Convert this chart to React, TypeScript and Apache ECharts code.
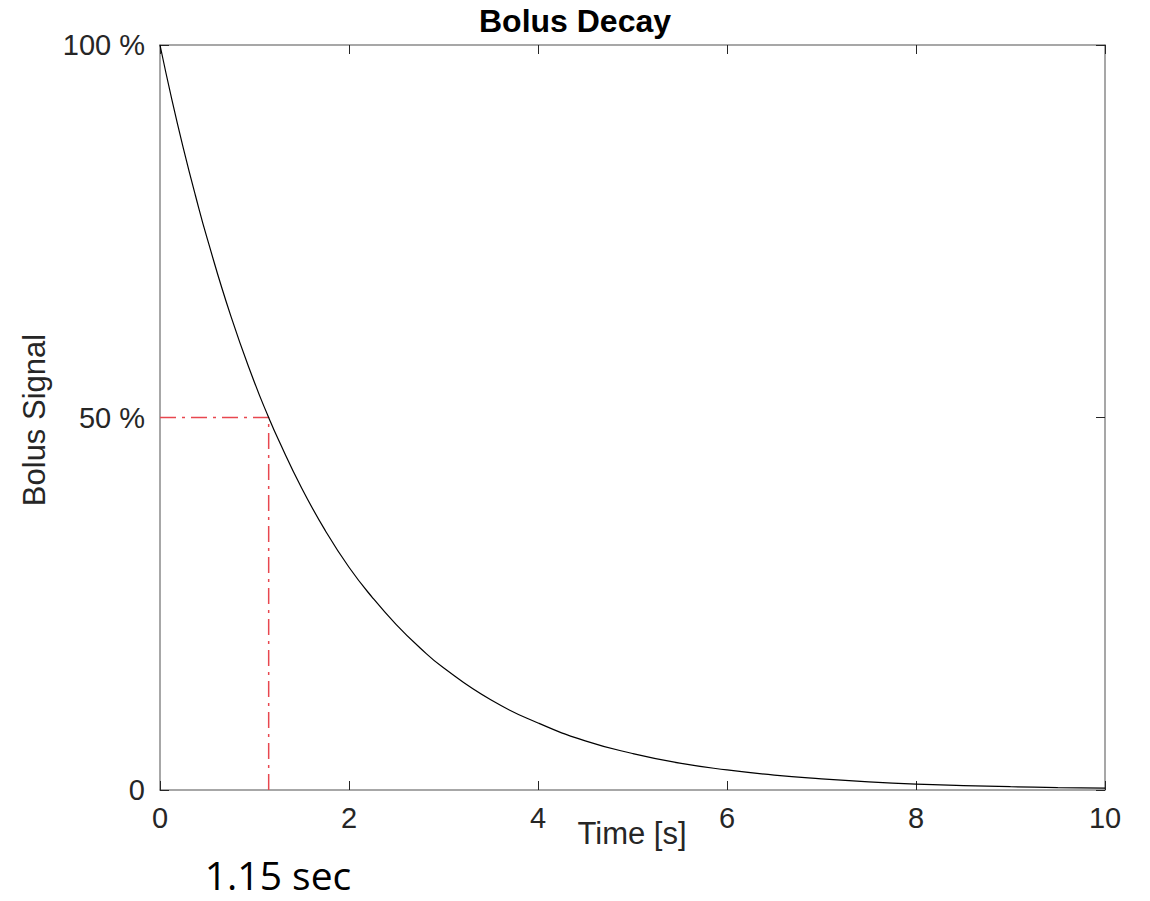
import React, { useEffect, useRef } from "react";
import * as echarts from "echarts";

// Time samples [s] and bolus signal [%]
const timeS = [0, 0.125, 0.25, 0.375, 0.5, 0.75, 1.0, 1.15, 1.25, 1.5, 1.75, 2.0, 2.25, 2.5, 2.75, 3.0, 3.5, 4.0, 4.5, 5.0, 5.5, 6.0, 6.5, 7.0, 7.5, 8.0, 8.5, 9.0, 9.5, 10.0];
const signalPct = [100, 92.7, 86.0, 79.8, 74.0, 63.6, 54.7, 50.0, 47.1, 40.5, 34.8, 29.9, 25.8, 22.2, 19.1, 16.4, 12.1, 9.0, 6.6, 4.9, 3.6, 2.7, 2.0, 1.5, 1.1, 0.8, 0.6, 0.44, 0.33, 0.24];

// Half-life marker (1.15 s at 50 %)
const halfLifeTime = 1.15;
const halfLevel = 50;
const hLine = [[0, halfLevel], [halfLifeTime, halfLevel]];
const vLine = [[halfLifeTime, 0], [halfLifeTime, halfLevel]];

const xTicks = [0, 2, 4, 6, 8, 10];
const yTickLabels: Record<number, string> = { 0: "0", 50: "50 %", 100: "100 %" };

const FONT = "'Liberation Sans', Arial, Helvetica, sans-serif";
const AXIS_GRAY = "#8a8a8a";
const TEXT = "#262626";
const RED = "#e8474f";

export default function App() {
  const ref = useRef<HTMLDivElement>(null);
  useEffect(() => {
    if (!ref.current) return;
    const chart = echarts.init(ref.current, null, { renderer: "svg" });
    const curve = timeS.map((t, i) => [t, signalPct[i]]);
    const tickCommon = {
      show: true,
      inside: true,
      length: 9,
      lineStyle: { color: TEXT, width: 1 },
    };
    chart.setOption({
      animation: false,
      backgroundColor: "#ffffff",
      title: {
        text: "Bolus Decay",
        left: "center",
        top: 0,
        textStyle: { fontFamily: FONT, fontWeight: "bold", fontSize: 32, color: "#000" },
      },
      grid: { left: 160, top: 45, right: 45, bottom: 111, containLabel: false },
      xAxis: [
        {
          type: "value",
          min: 0,
          max: 10,
          interval: 2,
          position: "bottom",
          axisLine: { show: true, lineStyle: { color: AXIS_GRAY, width: 1.5 } },
          axisTick: tickCommon,
          splitLine: { show: false },
          axisLabel: {
            show: true,
            margin: 13,
            fontFamily: FONT,
            fontSize: 29,
            color: TEXT,
            formatter: (v: number) => (xTicks.includes(v) ? String(v) : ""),
          },
        },
        {
          type: "value",
          min: 0,
          max: 10,
          interval: 2,
          position: "top",
          axisLine: { show: true, onZero: false, lineStyle: { color: AXIS_GRAY, width: 1.5 } },
          axisTick: tickCommon,
          splitLine: { show: false },
          axisLabel: { show: false },
        },
      ],
      yAxis: [
        {
          type: "value",
          min: 0,
          max: 100,
          interval: 50,
          position: "left",
          axisLine: { show: true, lineStyle: { color: AXIS_GRAY, width: 1.5 } },
          axisTick: tickCommon,
          splitLine: { show: false },
          axisLabel: {
            show: true,
            margin: 15,
            fontFamily: FONT,
            fontSize: 29,
            color: TEXT,
            formatter: (v: number) => yTickLabels[v] ?? "",
          },
        },
        {
          type: "value",
          min: 0,
          max: 100,
          interval: 50,
          position: "right",
          axisLine: { show: true, onZero: false, lineStyle: { color: AXIS_GRAY, width: 1.5 } },
          axisTick: tickCommon,
          splitLine: { show: false },
          axisLabel: { show: false },
        },
      ],
      series: [
        {
          type: "line",
          data: curve,
          smooth: true,
          showSymbol: false,
          symbol: "none",
          lineStyle: { color: "#000", width: 1.2 },
          z: 3,
        },
        {
          type: "line",
          data: hLine,
          showSymbol: false,
          symbol: "none",
          lineStyle: { color: RED, width: 1.5, type: [16, 6, 3, 6] },
          z: 2,
        },
        {
          type: "line",
          data: vLine,
          showSymbol: false,
          symbol: "none",
          lineStyle: { color: RED, width: 1.5, type: [16, 6, 3, 6] },
          z: 2,
        },
      ],
      graphic: [
        {
          type: "text",
          x: 632,
          y: 833,
          style: {
            text: "Time [s]",
            fontFamily: FONT,
            fontSize: 31,
            fill: TEXT,
            align: "center",
            verticalAlign: "middle",
          },
        },
        {
          type: "text",
          x: 34,
          y: 420,
          rotation: Math.PI / 2,
          style: {
            text: "Bolus Signal",
            fontFamily: FONT,
            fontSize: 31,
            fill: TEXT,
            align: "center",
            verticalAlign: "middle",
          },
        },
        {
          type: "text",
          x: 278,
          y: 874,
          style: {
            text: "1.15 sec",
            fontFamily: "'Open Sans', 'Liberation Sans', sans-serif",
            fontSize: 39,
            fill: "#000",
            align: "center",
            verticalAlign: "middle",
          },
        },
      ],
    });
    return () => chart.dispose();
  }, []);
  return (
    <div
      ref={ref}
      style={{ position: "absolute", left: 0, top: 0, width: 1150, height: 901, background: "#fff" }}
    />
  );
}
